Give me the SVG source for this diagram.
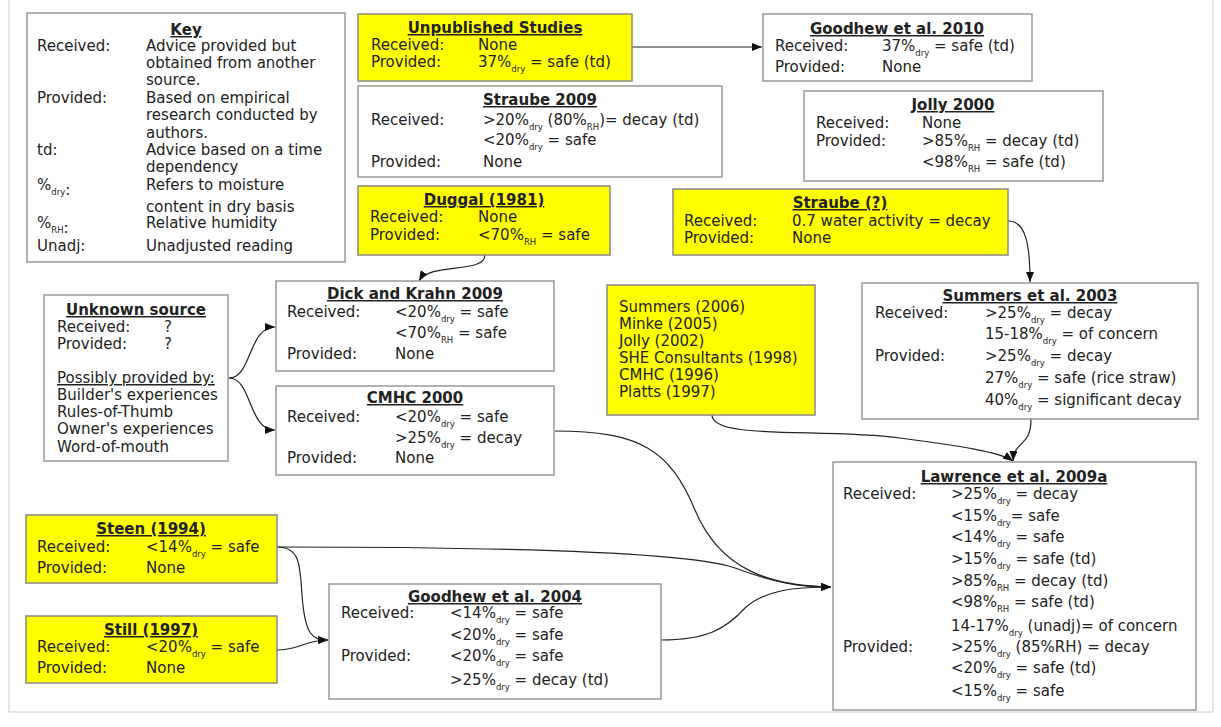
<svg xmlns="http://www.w3.org/2000/svg" width="1221" height="727" viewBox="0 0 1221 727">
<defs>
<style>
text{font-family:"DejaVu Sans","Liberation Sans",sans-serif;font-size:15px;fill:#222}
.h{font-weight:bold;text-decoration:underline;text-anchor:middle}
.u{text-decoration:underline}
.s{font-size:8.5px}
.box{fill:#fff;stroke:#999;stroke-width:1.5}
.yb{fill:#ffff00;stroke:#888;stroke-width:1.5}
.c{fill:none;stroke:#222;stroke-width:1.2}
</style>
<marker id="ar" viewBox="0 0 10 8" refX="10" refY="4" markerWidth="10" markerHeight="8" markerUnits="userSpaceOnUse" orient="auto">
<path d="M0,0 L10,4 L0,8 z" fill="#111"/>
</marker>
</defs>
<rect x="0" y="0" width="1221" height="727" fill="#fff"/>
<rect x="9" y="-2" width="1204" height="714" fill="none" stroke="#ccc" stroke-width="1"/>

<g id="connectors">
<path class="c" d="M632,47 L762,47" marker-end="url(#ar)"/>
<path class="c" d="M485,255 C485,274 430,262 419,281" marker-end="url(#ar)"/>
<path class="c" d="M1008,221 C1026,221 1030,245 1030,282" marker-end="url(#ar)"/>
<path class="c" d="M229,378 C252,378 248,327 275,327" marker-end="url(#ar)"/>
<path class="c" d="M229,378 C252,378 248,430 275,430" marker-end="url(#ar)"/>
<path class="c" d="M712,415 C712,440 820,428 900,438 C960,446 1000,452 1013,461" marker-end="url(#ar)"/>
<path class="c" d="M1031,419 C1031,448 1014,440 1013,461" marker-end="url(#ar)"/>
<path class="c" d="M555,431 C640,431 670,450 695,510 C720,570 770,586 831,587" marker-end="url(#ar)"/>
<path class="c" d="M277,547 C500,547 690,552 735,568 C775,583 800,587 831,587" marker-end="url(#ar)"/>
<path class="c" d="M661,640 C705,640 725,630 745,608 C765,590 795,587 831,587" marker-end="url(#ar)"/>
<path class="c" d="M277,547 C300,547 300,565 302,595 C305,635 312,640 328,640" marker-end="url(#ar)"/>
<path class="c" d="M277,650 C300,650 305,640 328,640" marker-end="url(#ar)"/>
</g>

<g id="key">
<rect class="box" x="27" y="13" width="318" height="249"/>
<text x="186" y="35" class="h">Key</text>
<text x="37" y="51">Received:</text><text x="146" y="51">Advice provided but</text>
<text x="146" y="68">obtained from another</text>
<text x="146" y="85">source.</text>
<text x="37" y="103">Provided:</text><text x="146" y="103">Based on empirical</text>
<text x="146" y="120">research conducted by</text>
<text x="146" y="138">authors.</text>
<text x="37" y="155">td:</text><text x="146" y="155">Advice based on a time</text>
<text x="146" y="172">dependency</text>
<text x="37" y="190">%<tspan class="s" dy="5">dry</tspan>:</text><text x="146" y="190">Refers to moisture</text>
<text x="146" y="212">content in dry basis</text>
<text x="37" y="228">%<tspan class="s" dy="5">RH</tspan>:</text><text x="146" y="228">Relative humidity</text>
<text x="37" y="251">Unadj:</text><text x="146" y="251">Unadjusted reading</text>
</g>

<g id="unpublished">
<rect class="yb" x="358" y="14" width="274" height="67"/>
<text x="495" y="33" class="h">Unpublished Studies</text>
<text x="371" y="50">Received:</text><text x="478" y="50">None</text>
<text x="371" y="67">Provided:</text><text x="478" y="67">37%<tspan class="s" dy="5">dry</tspan><tspan dy="-5"> = safe (td)</tspan></text>
</g>

<g id="straube2009">
<rect class="box" x="358" y="86" width="364" height="91"/>
<text x="540" y="105" class="h">Straube 2009</text>
<text x="371" y="125">Received:</text><text x="483" y="125">&gt;20%<tspan class="s" dy="5">dry</tspan><tspan dy="-5"> (80%</tspan><tspan class="s" dy="5">RH</tspan><tspan dy="-5">)= decay (td)</tspan></text>
<text x="483" y="145">&lt;20%<tspan class="s" dy="5">dry</tspan><tspan dy="-5"> = safe</tspan></text>
<text x="371" y="167">Provided:</text><text x="483" y="167">None</text>
</g>

<g id="goodhew2010">
<rect class="box" x="763" y="14" width="269" height="67"/>
<text x="897" y="34" class="h">Goodhew et al. 2010</text>
<text x="775" y="51">Received:</text><text x="882" y="51">37%<tspan class="s" dy="5">dry</tspan><tspan dy="-5"> = safe (td)</tspan></text>
<text x="775" y="72">Provided:</text><text x="882" y="72">None</text>
</g>

<g id="jolly2000">
<rect class="box" x="804" y="91" width="299" height="90"/>
<text x="953" y="110" class="h">Jolly 2000</text>
<text x="816" y="128">Received:</text><text x="922" y="128">None</text>
<text x="816" y="146">Provided:</text><text x="922" y="146">&gt;85%<tspan class="s" dy="5">RH</tspan><tspan dy="-5"> = decay (td)</tspan></text>
<text x="922" y="167">&lt;98%<tspan class="s" dy="5">RH</tspan><tspan dy="-5"> = safe (td)</tspan></text>
</g>

<g id="duggal">
<rect class="yb" x="358" y="186" width="252" height="69"/>
<text x="484" y="205" class="h">Duggal (1981)</text>
<text x="370" y="222">Received:</text><text x="478" y="222">None</text>
<text x="370" y="240">Provided:</text><text x="478" y="240">&lt;70%<tspan class="s" dy="5">RH</tspan><tspan dy="-5"> = safe</tspan></text>
</g>

<g id="straubeq">
<rect class="yb" x="673" y="189" width="335" height="66"/>
<text x="840" y="208" class="h">Straube (?)</text>
<text x="684" y="226">Received:</text><text x="792" y="226">0.7 water activity = decay</text>
<text x="684" y="243">Provided:</text><text x="792" y="243">None</text>
</g>

<g id="unknown">
<rect class="box" x="44" y="295" width="184" height="166"/>
<text x="136" y="315" class="h">Unknown source</text>
<text x="57" y="332">Received:</text><text x="164" y="332">?</text>
<text x="57" y="349">Provided:</text><text x="164" y="349">?</text>
<text x="57" y="383" class="u">Possibly provided by:</text>
<text x="57" y="400">Builder's experiences</text>
<text x="57" y="417">Rules-of-Thumb</text>
<text x="57" y="434">Owner's experiences</text>
<text x="57" y="452">Word-of-mouth</text>
</g>

<g id="dickkrahn">
<rect class="box" x="276" y="281" width="278" height="90"/>
<text x="415" y="299" class="h">Dick and Krahn 2009</text>
<text x="287" y="317">Received:</text><text x="395" y="317">&lt;20%<tspan class="s" dy="5">dry</tspan><tspan dy="-5"> = safe</tspan></text>
<text x="395" y="338">&lt;70%<tspan class="s" dy="5">RH</tspan><tspan dy="-5"> = safe</tspan></text>
<text x="287" y="359">Provided:</text><text x="395" y="359">None</text>
</g>

<g id="cmhc2000">
<rect class="box" x="276" y="386" width="278" height="89"/>
<text x="415" y="403" class="h">CMHC 2000</text>
<text x="287" y="422">Received:</text><text x="395" y="422">&lt;20%<tspan class="s" dy="5">dry</tspan><tspan dy="-5"> = safe</tspan></text>
<text x="395" y="443">&gt;25%<tspan class="s" dy="5">dry</tspan><tspan dy="-5"> = decay</tspan></text>
<text x="287" y="463">Provided:</text><text x="395" y="463">None</text>
</g>

<g id="sources">
<rect class="yb" x="607" y="285" width="208" height="130"/>
<text x="619" y="312">Summers (2006)</text>
<text x="619" y="329">Minke (2005)</text>
<text x="619" y="346">Jolly (2002)</text>
<text x="619" y="363">SHE Consultants (1998)</text>
<text x="619" y="380">CMHC (1996)</text>
<text x="619" y="397">Platts (1997)</text>
</g>

<g id="summers2003">
<rect class="box" x="862" y="283" width="336" height="136"/>
<text x="1030" y="301" class="h">Summers et al. 2003</text>
<text x="875" y="318">Received:</text><text x="985" y="318">&gt;25%<tspan class="s" dy="5">dry</tspan><tspan dy="-5"> = decay</tspan></text>
<text x="985" y="339">15-18%<tspan class="s" dy="5">dry</tspan><tspan dy="-5"> = of concern</tspan></text>
<text x="875" y="361">Provided:</text><text x="985" y="361">&gt;25%<tspan class="s" dy="5">dry</tspan><tspan dy="-5"> = decay</tspan></text>
<text x="985" y="383">27%<tspan class="s" dy="5">dry</tspan><tspan dy="-5"> = safe (rice straw)</tspan></text>
<text x="985" y="405">40%<tspan class="s" dy="5">dry</tspan><tspan dy="-5"> = significant decay</tspan></text>
</g>

<g id="lawrence">
<rect class="box" x="833" y="462" width="363" height="248"/>
<text x="1014" y="482" class="h">Lawrence et al. 2009a</text>
<text x="843" y="499">Received:</text><text x="951" y="499">&gt;25%<tspan class="s" dy="5">dry</tspan><tspan dy="-5"> = decay</tspan></text>
<text x="951" y="521">&lt;15%<tspan class="s" dy="5">dry</tspan><tspan dy="-5">= safe</tspan></text>
<text x="951" y="542">&lt;14%<tspan class="s" dy="5">dry</tspan><tspan dy="-5"> = safe</tspan></text>
<text x="951" y="564">&gt;15%<tspan class="s" dy="5">dry</tspan><tspan dy="-5"> = safe (td)</tspan></text>
<text x="951" y="586">&gt;85%<tspan class="s" dy="5">RH</tspan><tspan dy="-5"> = decay (td)</tspan></text>
<text x="951" y="607">&lt;98%<tspan class="s" dy="5">RH</tspan><tspan dy="-5"> = safe (td)</tspan></text>
<text x="951" y="631">14-17%<tspan class="s" dy="5">dry</tspan><tspan dy="-5"> (unadj)= of concern</tspan></text>
<text x="843" y="652">Provided:</text><text x="951" y="652">&gt;25%<tspan class="s" dy="5">dry</tspan><tspan dy="-5"> (85%RH) = decay</tspan></text>
<text x="951" y="673">&lt;20%<tspan class="s" dy="5">dry</tspan><tspan dy="-5"> = safe (td)</tspan></text>
<text x="951" y="696">&lt;15%<tspan class="s" dy="5">dry</tspan><tspan dy="-5"> = safe</tspan></text>
</g>

<g id="steen">
<rect class="yb" x="26" y="515" width="251" height="68"/>
<text x="151" y="534" class="h">Steen (1994)</text>
<text x="37" y="552">Received:</text><text x="146" y="552">&lt;14%<tspan class="s" dy="5">dry</tspan><tspan dy="-5"> = safe</tspan></text>
<text x="37" y="573">Provided:</text><text x="146" y="573">None</text>
</g>

<g id="still">
<rect class="yb" x="26" y="616" width="251" height="67"/>
<text x="151" y="635" class="h">Still (1997)</text>
<text x="37" y="652">Received:</text><text x="146" y="652">&lt;20%<tspan class="s" dy="5">dry</tspan><tspan dy="-5"> = safe</tspan></text>
<text x="37" y="673">Provided:</text><text x="146" y="673">None</text>
</g>

<g id="goodhew2004">
<rect class="box" x="329" y="584" width="332" height="115"/>
<text x="495" y="602" class="h">Goodhew et al. 2004</text>
<text x="341" y="618">Received:</text><text x="450" y="618">&lt;14%<tspan class="s" dy="5">dry</tspan><tspan dy="-5"> = safe</tspan></text>
<text x="450" y="640">&lt;20%<tspan class="s" dy="5">dry</tspan><tspan dy="-5"> = safe</tspan></text>
<text x="341" y="661">Provided:</text><text x="450" y="661">&lt;20%<tspan class="s" dy="5">dry</tspan><tspan dy="-5"> = safe</tspan></text>
<text x="450" y="685">&gt;25%<tspan class="s" dy="5">dry</tspan><tspan dy="-5"> = decay (td)</tspan></text>
</g>
</svg>
